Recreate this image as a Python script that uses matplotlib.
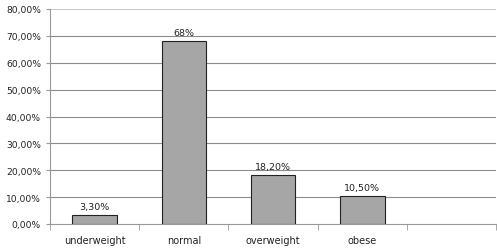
import matplotlib
matplotlib.use("Agg")
import matplotlib.pyplot as plt
from matplotlib.ticker import FuncFormatter

categories = ["underweight", "normal", "overweight", "obese"]
values = [3.3, 68.0, 18.2, 10.5]
labels = ["3,30%", "68%", "18,20%", "10,50%"]
yticks = [0, 10, 20, 30, 40, 50, 60, 70, 80]

fig = plt.figure(figsize=(4.97, 2.51), dpi=100)
ax = fig.add_axes([50/497, 26/251, 446/497, 215/251])

x = list(range(len(categories)))
bars = ax.bar(x, values, width=0.5, color="#a6a6a6", edgecolor="#222222", linewidth=0.8, zorder=3)
for xi, v, lab in zip(x, values, labels):
    ax.text(xi, v + 1.5, lab, ha="center", va="bottom", fontsize=6.8, color="#222222")

ax.set_xlim(-0.5, 4.5)
ax.set_ylim(0, 80)
ax.set_yticks(yticks)
ax.yaxis.set_major_formatter(FuncFormatter(lambda v, p: f"{v:.2f}%".replace(".", ",")))
ax.set_xticks(x)
ax.set_xticklabels(categories)
ax.set_xticks([-0.5, 0.5, 1.5, 2.5, 3.5, 4.5], minor=True)
ax.tick_params(axis="x", which="major", length=0, labelsize=7, pad=8, colors="#222222")
ax.tick_params(axis="x", which="minor", length=4, color="#999999", direction="out")
ax.tick_params(axis="y", length=3, color="#999999", labelsize=6.6, colors="#222222")
for yt in yticks[1:-1]:
    ax.axhline(yt, color="#8c8c8c", linewidth=0.8, zorder=1)
ax.axhline(80, color="#bdbdbd", linewidth=1.2, zorder=1)
for s in ["top", "right"]:
    ax.spines[s].set_visible(False)
ax.spines["left"].set_color("#999999")
ax.spines["bottom"].set_color("#999999")
fig.savefig("out.png", dpi=100)
